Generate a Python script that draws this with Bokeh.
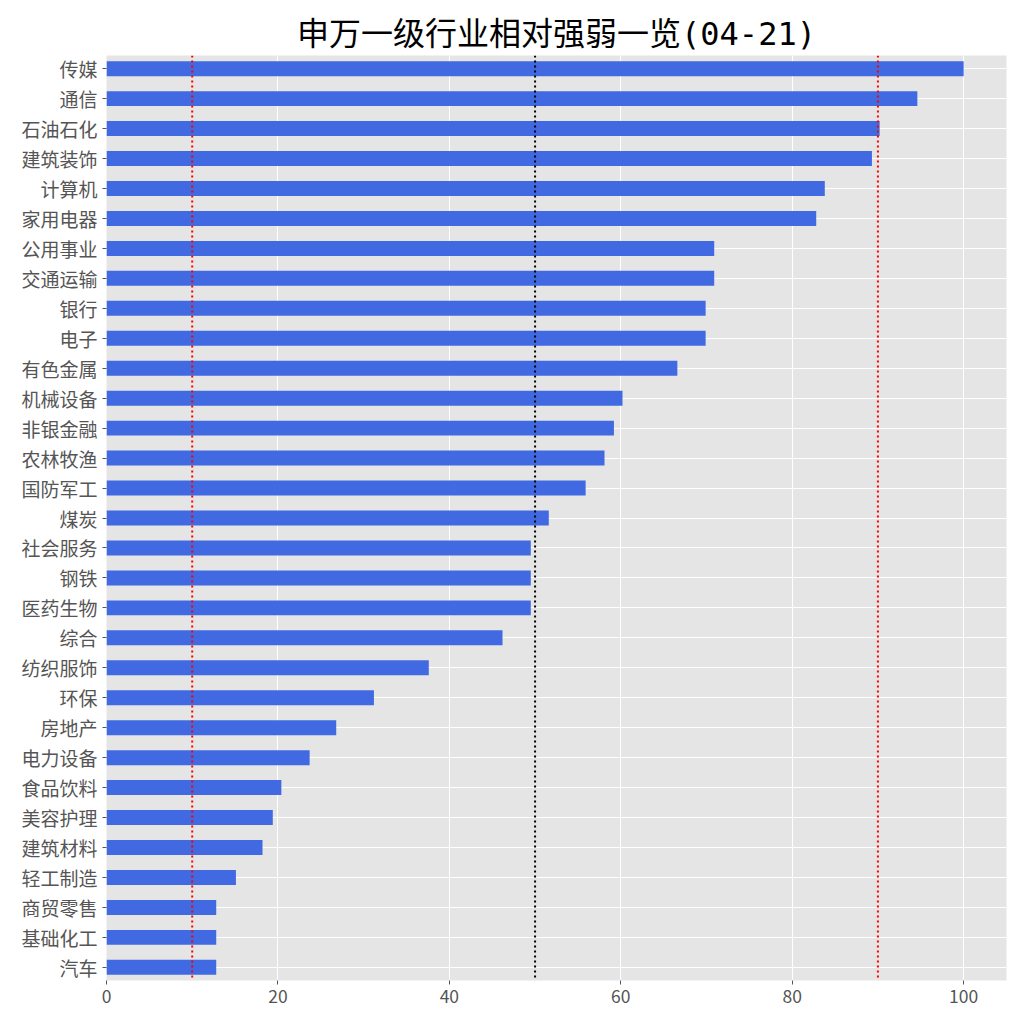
from bokeh.plotting import figure
from bokeh.models import Range1d, FixedTicker, Span, ColumnDataSource
from bokeh.embed import file_html
from bokeh.resources import INLINE

industries = ["传媒", "通信", "石油石化", "建筑装饰", "计算机", "家用电器", "公用事业", "交通运输",
              "银行", "电子", "有色金属", "机械设备", "非银金融", "农林牧渔", "国防军工", "煤炭",
              "社会服务", "钢铁", "医药生物", "综合", "纺织服饰", "环保", "房地产", "电力设备",
              "食品饮料", "美容护理", "建筑材料", "轻工制造", "商贸零售", "基础化工", "汽车"]
values = [100.0, 94.6, 90.2, 89.3, 83.8, 82.8, 70.9, 70.9,
          69.9, 69.9, 66.6, 60.2, 59.2, 58.1, 55.9, 51.6,
          49.5, 49.5, 49.5, 46.2, 37.6, 31.2, 26.8, 23.7,
          20.4, 19.4, 18.2, 15.1, 12.8, 12.8, 12.8]
x_ticks = [0, 20, 40, 60, 80, 100]
ref_lines = [10, 50, 90]
ref_colors = ["red", "black", "red"]
title_text = "申万一级行业相对强弱一览(04-21)"

n = len(industries)
ypos = [n - 1 - i for i in range(n)]
src = ColumnDataSource(dict(y=ypos, v=values, name=industries))

p = figure(width=1016, height=1016, output_backend="svg", toolbar_location=None,
           x_range=Range1d(0, 105), y_range=Range1d(-0.44, n - 1 + 0.44),
           frame_width=900, frame_height=925,
           min_border_left=106, min_border_right=10, min_border_top=55, min_border_bottom=30)

p.background_fill_color = "#E5E5E5"
p.border_fill_color = "white"
p.outline_line_color = None

p.hbar(y="y", right="v", left=0, height=0.5, source=src, color="#4169E1", line_color=None)

for xv, c in zip(ref_lines, ref_colors):
    p.add_layout(Span(location=xv, dimension="height", line_color=c,
                      line_width=2, line_dash="2 3"))

p.xaxis.ticker = FixedTicker(ticks=x_ticks)
p.yaxis.ticker = FixedTicker(ticks=ypos)
p.yaxis.major_label_overrides = {y: name for y, name in zip(ypos, industries)}

for ax in (p.xaxis[0], p.yaxis[0]):
    ax.axis_line_color = None
    ax.major_tick_line_color = "#555555"
    ax.major_tick_in = 0
    ax.major_tick_out = 4
    ax.minor_tick_line_color = None
    ax.major_label_text_color = "#555555"
    ax.major_label_text_font = "Noto Sans CJK SC"
p.yaxis.major_label_text_font_size = "19px"
p.xaxis.major_label_text_font_size = "17.5px"
p.yaxis.major_label_standoff = 5
p.xaxis.major_label_standoff = 5

p.xgrid.grid_line_color = "white"
p.xgrid.grid_line_width = 1
p.ygrid.grid_line_color = "white"
p.ygrid.grid_line_width = 1

p.title.text = title_text
p.title.align = "center"
p.title.text_font = "'DejaVu Sans Mono', 'Noto Sans CJK SC'"
p.title.text_font_size = "32px"
p.title.text_font_style = "normal"
p.title.text_color = "black"
p.title.standoff = 6

open("out.html", "w").write(file_html(p, INLINE))
